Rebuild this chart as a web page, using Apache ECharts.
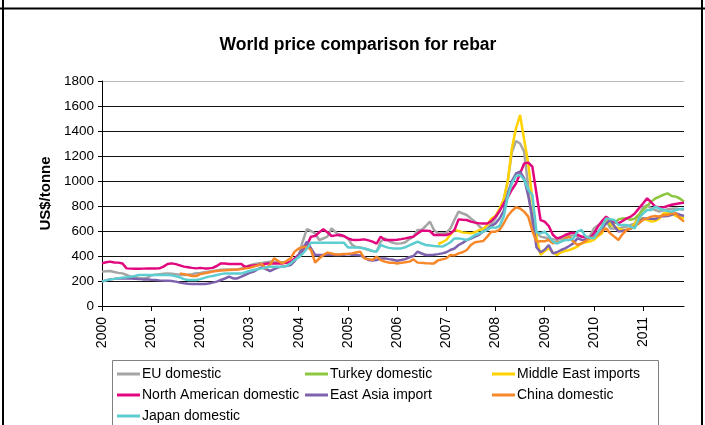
<!DOCTYPE html>
<html>
<head>
<meta charset="utf-8">
<script src="https://cdn.jsdelivr.net/npm/echarts@6/dist/echarts.min.js"></script>
<style>
html,body{margin:0;padding:0;background:#fff;}
#chart{width:705px;height:425px;}
</style>
</head>
<body>
<div id="chart"></div>
<script>
// ---- data ----
const tickLabels = ['2000','2001','2001','2003','2004','2005','2006','2007','2008','2009','2010','2011'];
const categories = [];
for (let y = 2000; y <= 2011; y++) {
  for (let m = 1; m <= 12; m++) {
    if (categories.length < 143) categories.push(y + '-' + (m < 10 ? '0' + m : m));
  }
}
const seriesNames = ['EU domestic','Turkey domestic','Middle East imports','North American domestic','East Asia import','China domestic','Japan domestic'];

const euDomestic = [
  275,278,280,272,265,261,248,235,228,224,221,225,
  245,250,255,258,260,258,255,250,248,250,255,262,
  265,270,275,280,285,290,293,293,293,293,300,315,
  325,335,341,345,350,355,352,350,350,348,345,370,
  405,520,615,600,580,528,540,555,621,590,560,560,
  540,490,472,469,460,448,440,435,515,541,520,505,
  499,501,510,535,555,608,608,640,675,608,581,581,
  585,620,690,755,740,728,700,675,640,610,620,660,
  700,760,850,1000,1230,1320,1300,1235,950,640,581,555,
  548,541,535,528,540,555,560,565,560,555,555,555,
  620,645,665,688,620,620,620,628,635,648,661,720,
  790,808,781,768,755,765,775,778,781,775,770
];
const turkeyStart = 120;
const turkeyDomestic = [
  540,580,640,690,640,661,693,701,700,690,700,730,
  768,800,835,860,875,890,901,880,875,860,835
];
const middleEastStart = 82;
const middleEastImports = [
  496,510,
  528,570,608,600,589,585,581,590,608,615,650,700,
  720,780,850,1000,1260,1420,1528,1330,1140,850,555,410,
  440,461,430,408,430,440,448,460,475,501,510,515,
  530,560,581,701,660,635,620,608,610,620,660,701,
  700,690,675,680,700,741,745,740,720,710,700
];
const northAmerican = [
  341,350,355,348,347,340,301,299,298,298,299,300,
  300,300,301,315,336,341,335,325,315,310,305,301,
  305,301,301,305,320,341,340,336,336,336,336,310,
  320,325,328,332,338,341,341,341,341,345,355,381,
  410,435,488,555,560,590,613,590,560,565,570,560,
  541,530,528,530,533,525,515,499,555,528,528,528,
  530,535,541,548,555,580,603,603,600,568,568,568,
  568,580,608,693,690,688,675,667,661,660,660,680,
  714,760,820,870,930,980,1060,1140,1147,1115,900,688,
  675,640,570,541,550,568,580,587,570,555,548,541,
  580,635,680,715,688,675,661,680,701,715,740,781,
  820,861,830,795,790,789,800,810,816,822,827
];
const eastAsia = [
  195,205,213,217,220,221,221,220,218,215,213,213,
  210,208,205,203,203,200,195,187,182,178,176,176,
  176,176,180,187,195,208,220,235,221,221,235,250,
  265,275,295,309,295,280,295,309,315,320,328,360,
  410,460,515,460,408,408,408,410,410,408,408,410,
  415,410,408,405,390,368,363,368,381,381,375,370,
  362,368,375,390,400,435,420,408,408,410,415,421,
  430,448,460,488,505,528,540,555,570,595,610,640,
  661,700,760,900,1000,1060,1075,1020,880,715,470,430,
  450,488,421,430,448,461,480,501,541,530,528,545,
  555,590,620,660,688,640,595,600,608,620,635,670,
  701,700,698,695,715,718,720,730,741,730,720
];
const chinaStart = 19;
const chinaDomestic = [
  261,255,248,240,240,
  255,261,268,275,280,283,286,288,290,292,295,301,
  305,315,325,336,300,330,381,360,341,360,381,435,
  460,470,475,448,347,380,408,427,420,412,412,416,
  418,421,428,435,381,375,368,395,368,355,347,347,
  340,345,350,355,373,347,345,342,341,341,365,373,
  381,408,405,421,430,448,488,510,515,520,555,595,
  595,610,660,720,760,790,780,755,715,600,515,518,
  518,528,501,510,515,540,555,515,488,501,520,541,
  550,568,600,621,581,555,528,575,608,621,640,661,
  690,701,715,720,715,728,728,741,741,701,675
];
const japanDomestic = [
  195,205,213,217,222,227,230,235,240,248,248,248,
  248,248,248,248,248,245,238,229,215,208,208,208,
  215,225,235,240,248,255,261,261,261,261,261,270,
  280,288,295,301,308,315,315,315,315,320,341,368,
  390,420,461,507,507,507,507,507,507,507,507,507,
  469,469,469,465,460,453,440,435,488,475,465,461,
  461,461,470,485,500,515,500,488,484,480,478,475,
  490,510,541,541,535,528,545,568,580,595,610,630,
  625,640,715,875,981,1040,1048,1010,930,890,590,581,
  595,560,515,500,515,528,528,540,595,608,555,545,
  541,590,635,701,695,688,648,648,648,635,621,701,
  740,768,768,795,780,768,760,755,768,775,781
];

// ---- build ----
function pad(start, arr) { return new Array(start).fill(null).concat(arr); }
const seriesData = [
  euDomestic,
  pad(turkeyStart, turkeyDomestic),
  pad(middleEastStart, middleEastImports),
  northAmerican,
  eastAsia,
  pad(chinaStart, chinaDomestic),
  japanDomestic
];
const colors = ['#A5A5A5','#8DC63F','#FFD200','#E2077E','#7E62AE','#F7882A','#5DCDD0'];
const FONT = 'Liberation Sans, Arial, sans-serif';

const chart = echarts.init(document.getElementById('chart'));
const legendCommon = {
  orient: 'vertical', icon: 'rect', itemWidth: 23, itemHeight: 3, itemGap: 5, padding: 0,
  textStyle: { fontFamily: FONT, fontSize: 14, color: '#000', lineHeight: 16, padding: [0,0,0,-3] },
  selectedMode: false
};
chart.setOption({
  animation: false,
  backgroundColor: '#fff',
  color: colors,
  title: {
    text: 'World price comparison for rebar',
    left: 353, top: 31, textAlign: 'center',
    textStyle: { fontFamily: FONT, fontSize: 17.5, fontWeight: 'bold', color: '#000' }
  },
  grid: { left: 102, top: 81, width: 582, height: 225, containLabel: false },
  legend: [
    Object.assign({ left: 117, top: 366, data: [seriesNames[0], seriesNames[3], seriesNames[6]] }, legendCommon),
    Object.assign({ left: 305, top: 366, data: [seriesNames[1], seriesNames[4]] }, legendCommon),
    Object.assign({ left: 492, top: 366, data: [seriesNames[2], seriesNames[5]] }, legendCommon)
  ],
  xAxis: {
    type: 'category', data: categories, boundaryGap: false,
    axisLine: { lineStyle: { color: '#000', width: 1 } },
    axisTick: { interval: 11, length: 5, lineStyle: { color: '#000' } },
    axisLabel: {
      interval: 11, rotate: 90, margin: 11, fontFamily: FONT, fontSize: 14, color: '#000',
      formatter: function (v, i) { return i % 12 === 0 ? tickLabels[i / 12] : ''; }
    },
    splitLine: { show: false }
  },
  yAxis: {
    type: 'value', min: 0, max: 1800, interval: 200,
    name: 'US$/tonne', nameLocation: 'middle', nameGap: 49, nameRotate: 90,
    nameTextStyle: { fontFamily: FONT, fontSize: 15, fontWeight: 'bold', color: '#000' },
    axisLine: { show: true, lineStyle: { color: '#000', width: 1 } },
    axisTick: { show: true, length: 4, lineStyle: { color: '#000' } },
    axisLabel: { fontFamily: FONT, fontSize: 13.5, color: '#000', margin: 8,
      formatter: function (v) { return String(v); } },
    splitLine: { show: true, lineStyle: { color: ['#000','#111','#111','#111','#111','#111','#111','#111','#111','#bbb'], width: 1 } }
  },
  series: seriesNames.map(function (n, k) {
    return {
      name: n, type: 'line', data: seriesData[k], symbol: 'none', showSymbol: false,
      connectNulls: false,
      lineStyle: { width: 2.5, color: colors[k] },
      itemStyle: { color: colors[k] }
    };
  }),
  graphic: [
    { type: 'line', shape: { x1: 0, y1: 8.5, x2: 705, y2: 8.5 }, style: { stroke: '#000', lineWidth: 2 }, silent: true },
    { type: 'line', shape: { x1: 3, y1: 0, x2: 3, y2: 425 }, style: { stroke: '#000', lineWidth: 2 }, silent: true },
    { type: 'line', shape: { x1: 702, y1: 0, x2: 702, y2: 425 }, style: { stroke: '#000', lineWidth: 2 }, silent: true },
    { type: 'rect', shape: { x: 112.5, y: 360.5, width: 546, height: 80 }, style: { fill: 'none', stroke: '#808080', lineWidth: 1 }, silent: true, z: -1 }
  ]
});
</script>
</body>
</html>
